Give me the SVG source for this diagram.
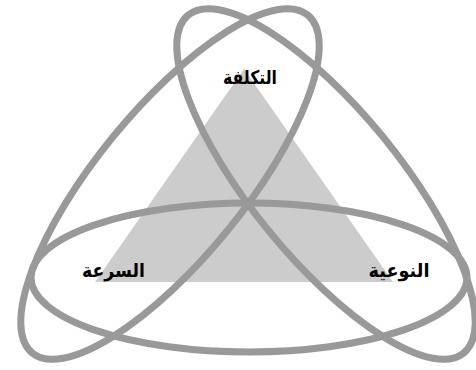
<svg xmlns="http://www.w3.org/2000/svg" width="476" height="370" viewBox="0 0 476 370">
<style>
.e{fill:none;stroke:#999999;stroke-width:7}
.t{font-family:"DejaVu Sans","Noto Sans",sans-serif;font-weight:bold;font-size:19px;fill:#000000;text-anchor:middle}
</style>
<rect width="476" height="370" fill="#ffffff"/>
<polygon id="triangle" points="244,69 95,282 393,282" fill="#cccccc"/>
<g id="ellipses">
<ellipse id="ellipse-bottom" class="e" cx="249" cy="277.5" rx="218" ry="74.5"/>
<ellipse id="ellipse-right" class="e" cx="326" cy="184" rx="218" ry="74" transform="rotate(50.8 326 184)"/>
<ellipse id="ellipse-left" class="e" cx="170" cy="184" rx="218" ry="74" transform="rotate(-50.8 170 184)"/>
</g>
<g id="label-cost"><text class="t" x="250" y="84" direction="rtl" textLength="54" lengthAdjust="spacingAndGlyphs">التكلفة</text></g>
<g id="label-speed"><text class="t" x="113.5" y="277" direction="rtl" textLength="63" lengthAdjust="spacingAndGlyphs">السرعة</text></g>
<g id="label-quality"><text class="t" x="399" y="277" direction="rtl" textLength="61" lengthAdjust="spacingAndGlyphs">النوعية</text></g>
</svg>
